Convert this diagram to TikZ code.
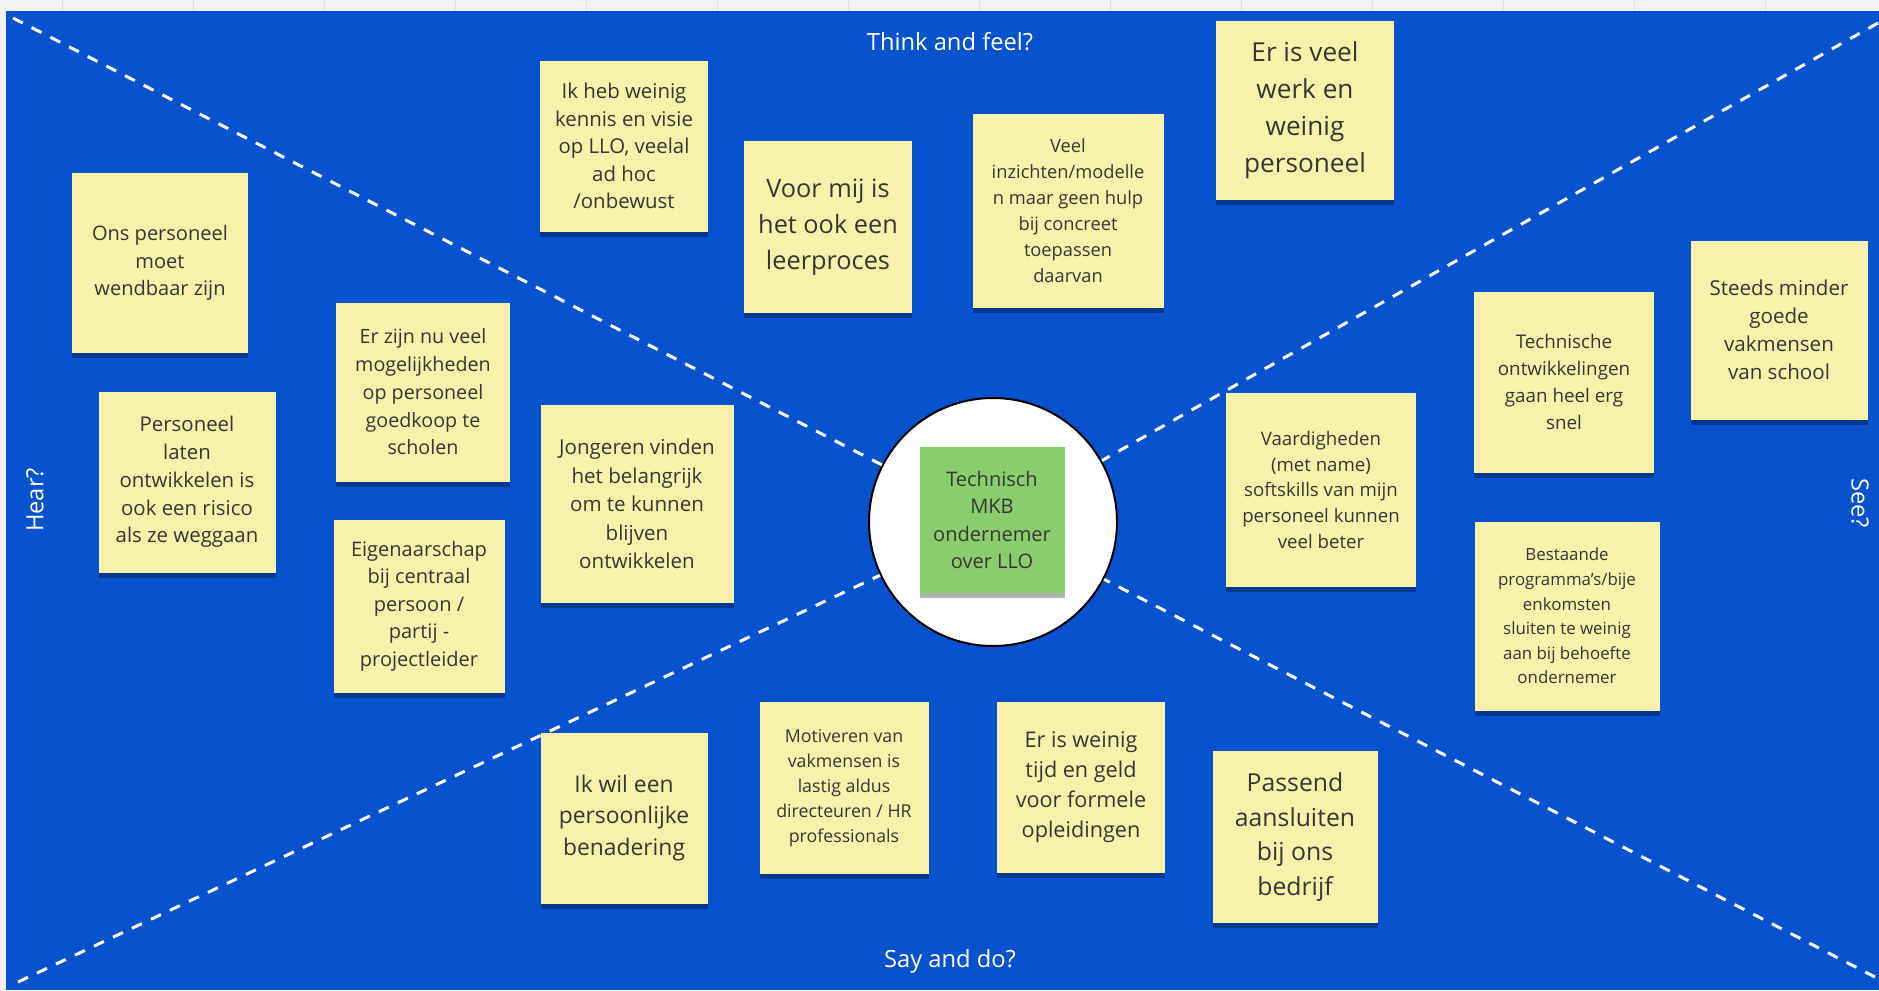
\documentclass[tikz,border=0pt]{standalone}
\usepackage{fontspec}
\setmainfont{Open Sans}
\usepackage{tikz}
\usetikzlibrary{shadows}

\definecolor{boardblue}{RGB}{8,82,206}
\definecolor{stickyyellow}{RGB}{248,241,172}
\definecolor{stickygreen}{RGB}{138,205,110}
\definecolor{notetext}{RGB}{55,55,50}
\definecolor{pagegray}{RGB}{242,242,242}

\begin{document}
\begin{tikzpicture}[
    sticky/.style={fill=stickyyellow, text=notetext, align=center, inner sep=0pt,
        drop shadow={shadow xshift=0cm, shadow yshift=-0.05cm, fill=black, opacity=.3}},
    fs/.style 2 args={font=\fontsize{#1}{#2}\selectfont},
    side/.style={text=white, font=\fontsize{6.75}{8}\selectfont},
    divider/.style={draw=white, line width=0.03cm, dash pattern=on 0.11cm off 0.10cm}
]
    % Board
    \useasboundingbox (0,0) rectangle (18.79,-9.90);
    \fill[pagegray] (0,0) rectangle (18.79,-9.90);
    \foreach \x in {0.62,1.93,...,18.79} {
        \draw[gray!25, line width=0.01cm] (\x,0) -- (\x,-0.11);
    }
    \fill[boardblue] (0.06,-0.11) rectangle (18.79,-9.90);

    % Center
    \node[circle, draw=black, line width=0.02cm, fill=white, minimum size=2.48cm] (hub) at (9.93,-5.22) {};

    % Dividers
    \coordinate (tl) at (0.13,-0.18);
    \coordinate (tr) at (18.78,-0.23);
    \coordinate (bl) at (0.18,-9.82);
    \coordinate (br) at (18.75,-9.77);
    \foreach \c in {tl,tr,bl,br} {
        \draw[divider] (\c) -- (hub);
    }

    \node[sticky, fill=stickygreen, minimum width=1.45cm, minimum height=1.46cm, fs={5.7}{7.8}] (persona) at (9.92,-5.20) {Technisch\\MKB\\ondernemer\\over LLO};

    % Quadrant labels
    \node[side] (thinklbl) at (9.50,-0.42) {Think and feel?};
    \node[side] (saylbl) at (9.50,-9.61) {Say and do?};
    \node[side, rotate=90] (hearlbl) at (0.35,-5.00) {Hear?};
    \node[side, rotate=-90] (seelbl) at (18.60,-5.03) {See?};

    % Hear
    \node[sticky, minimum width=1.76cm, minimum height=1.80cm, fs={5.7}{7.8}] (hear1) at (1.60,-2.63) {Ons personeel\\moet\\wendbaar zijn};
    \node[sticky, minimum width=1.77cm, minimum height=1.81cm, fs={5.8}{7.9}] (hear2) at (1.87,-4.82) {Personeel\\laten\\ontwikkelen is\\ook een risico\\als ze weggaan};
    \node[sticky, minimum width=1.74cm, minimum height=1.79cm, fs={5.6}{7.9}] (hear3) at (4.23,-3.92) {Er zijn nu veel\\mogelijkheden\\op personeel\\goedkoop te\\scholen};
    \node[sticky, minimum width=1.71cm, minimum height=1.73cm, fs={5.7}{7.8}] (hear4) at (4.19,-6.06) {Eigenaarschap\\bij centraal\\persoon /\\partij -\\projectleider};
    \node[sticky, minimum width=1.93cm, minimum height=1.98cm, fs={5.85}{8.1}] (hear5) at (6.37,-5.04) {Jongeren vinden\\het belangrijk\\om te kunnen\\blijven\\ontwikkelen};

    % Think and feel
    \node[sticky, minimum width=1.68cm, minimum height=1.71cm, fs={5.8}{7.8}] (think1) at (6.24,-1.46) {Ik heb weinig\\kennis en visie\\op LLO, veelal\\ad hoc\\/onbewust};
    \node[sticky, minimum width=1.68cm, minimum height=1.72cm, fs={7.2}{10.2}] (think2) at (8.28,-2.27) {Voor mij is\\het ook een\\leerproces};
    \node[sticky, minimum width=1.91cm, minimum height=1.94cm, fs={5.2}{7.4}] (think3) at (10.68,-2.11) {Veel\\inzichten/modelle\\n maar geen hulp\\bij concreet\\toepassen\\daarvan};
    \node[sticky, minimum width=1.78cm, minimum height=1.79cm, fs={7.45}{10.5}] (think4) at (13.05,-1.10) {Er is veel\\werk en\\weinig\\personeel};

    % See
    \node[sticky, minimum width=1.90cm, minimum height=1.94cm, fs={5.3}{7.3}] (see1) at (13.21,-4.90) {Vaardigheden\\(met name)\\softskills van mijn\\personeel kunnen\\veel beter};
    \node[sticky, minimum width=1.80cm, minimum height=1.81cm, fs={5.35}{7.6}] (see2) at (15.64,-3.82) {Technische\\ontwikkelingen\\gaan heel erg\\snel};
    \node[sticky, minimum width=1.77cm, minimum height=1.79cm, fs={5.85}{8.0}] (see3) at (17.79,-3.30) {Steeds minder\\goede\\vakmensen\\van school};
    \node[sticky, minimum width=1.85cm, minimum height=1.89cm, fs={4.8}{7.0}] (see4) at (15.67,-6.16) {Bestaande\\programma's/bije\\enkomsten\\sluiten te weinig\\aan bij behoefte\\ondernemer};

    % Say and do
    \node[sticky, minimum width=1.67cm, minimum height=1.71cm, fs={6.5}{9.0}] (say1) at (6.24,-8.18) {Ik wil een\\persoonlijke\\benadering};
    \node[sticky, minimum width=1.69cm, minimum height=1.72cm, fs={5.05}{7.1}] (say2) at (8.44,-7.88) {Motiveren van\\vakmensen is\\lastig aldus\\directeuren / HR\\professionals};
    \node[sticky, minimum width=1.68cm, minimum height=1.71cm, fs={6.15}{8.5}] (say3) at (10.81,-7.87) {Er is weinig\\tijd en geld\\voor formele\\opleidingen};
    \node[sticky, minimum width=1.65cm, minimum height=1.72cm, fs={7.05}{9.9}] (say4) at (12.95,-8.37) {Passend\\aansluiten\\bij ons\\bedrijf};
\end{tikzpicture}
\end{document}
